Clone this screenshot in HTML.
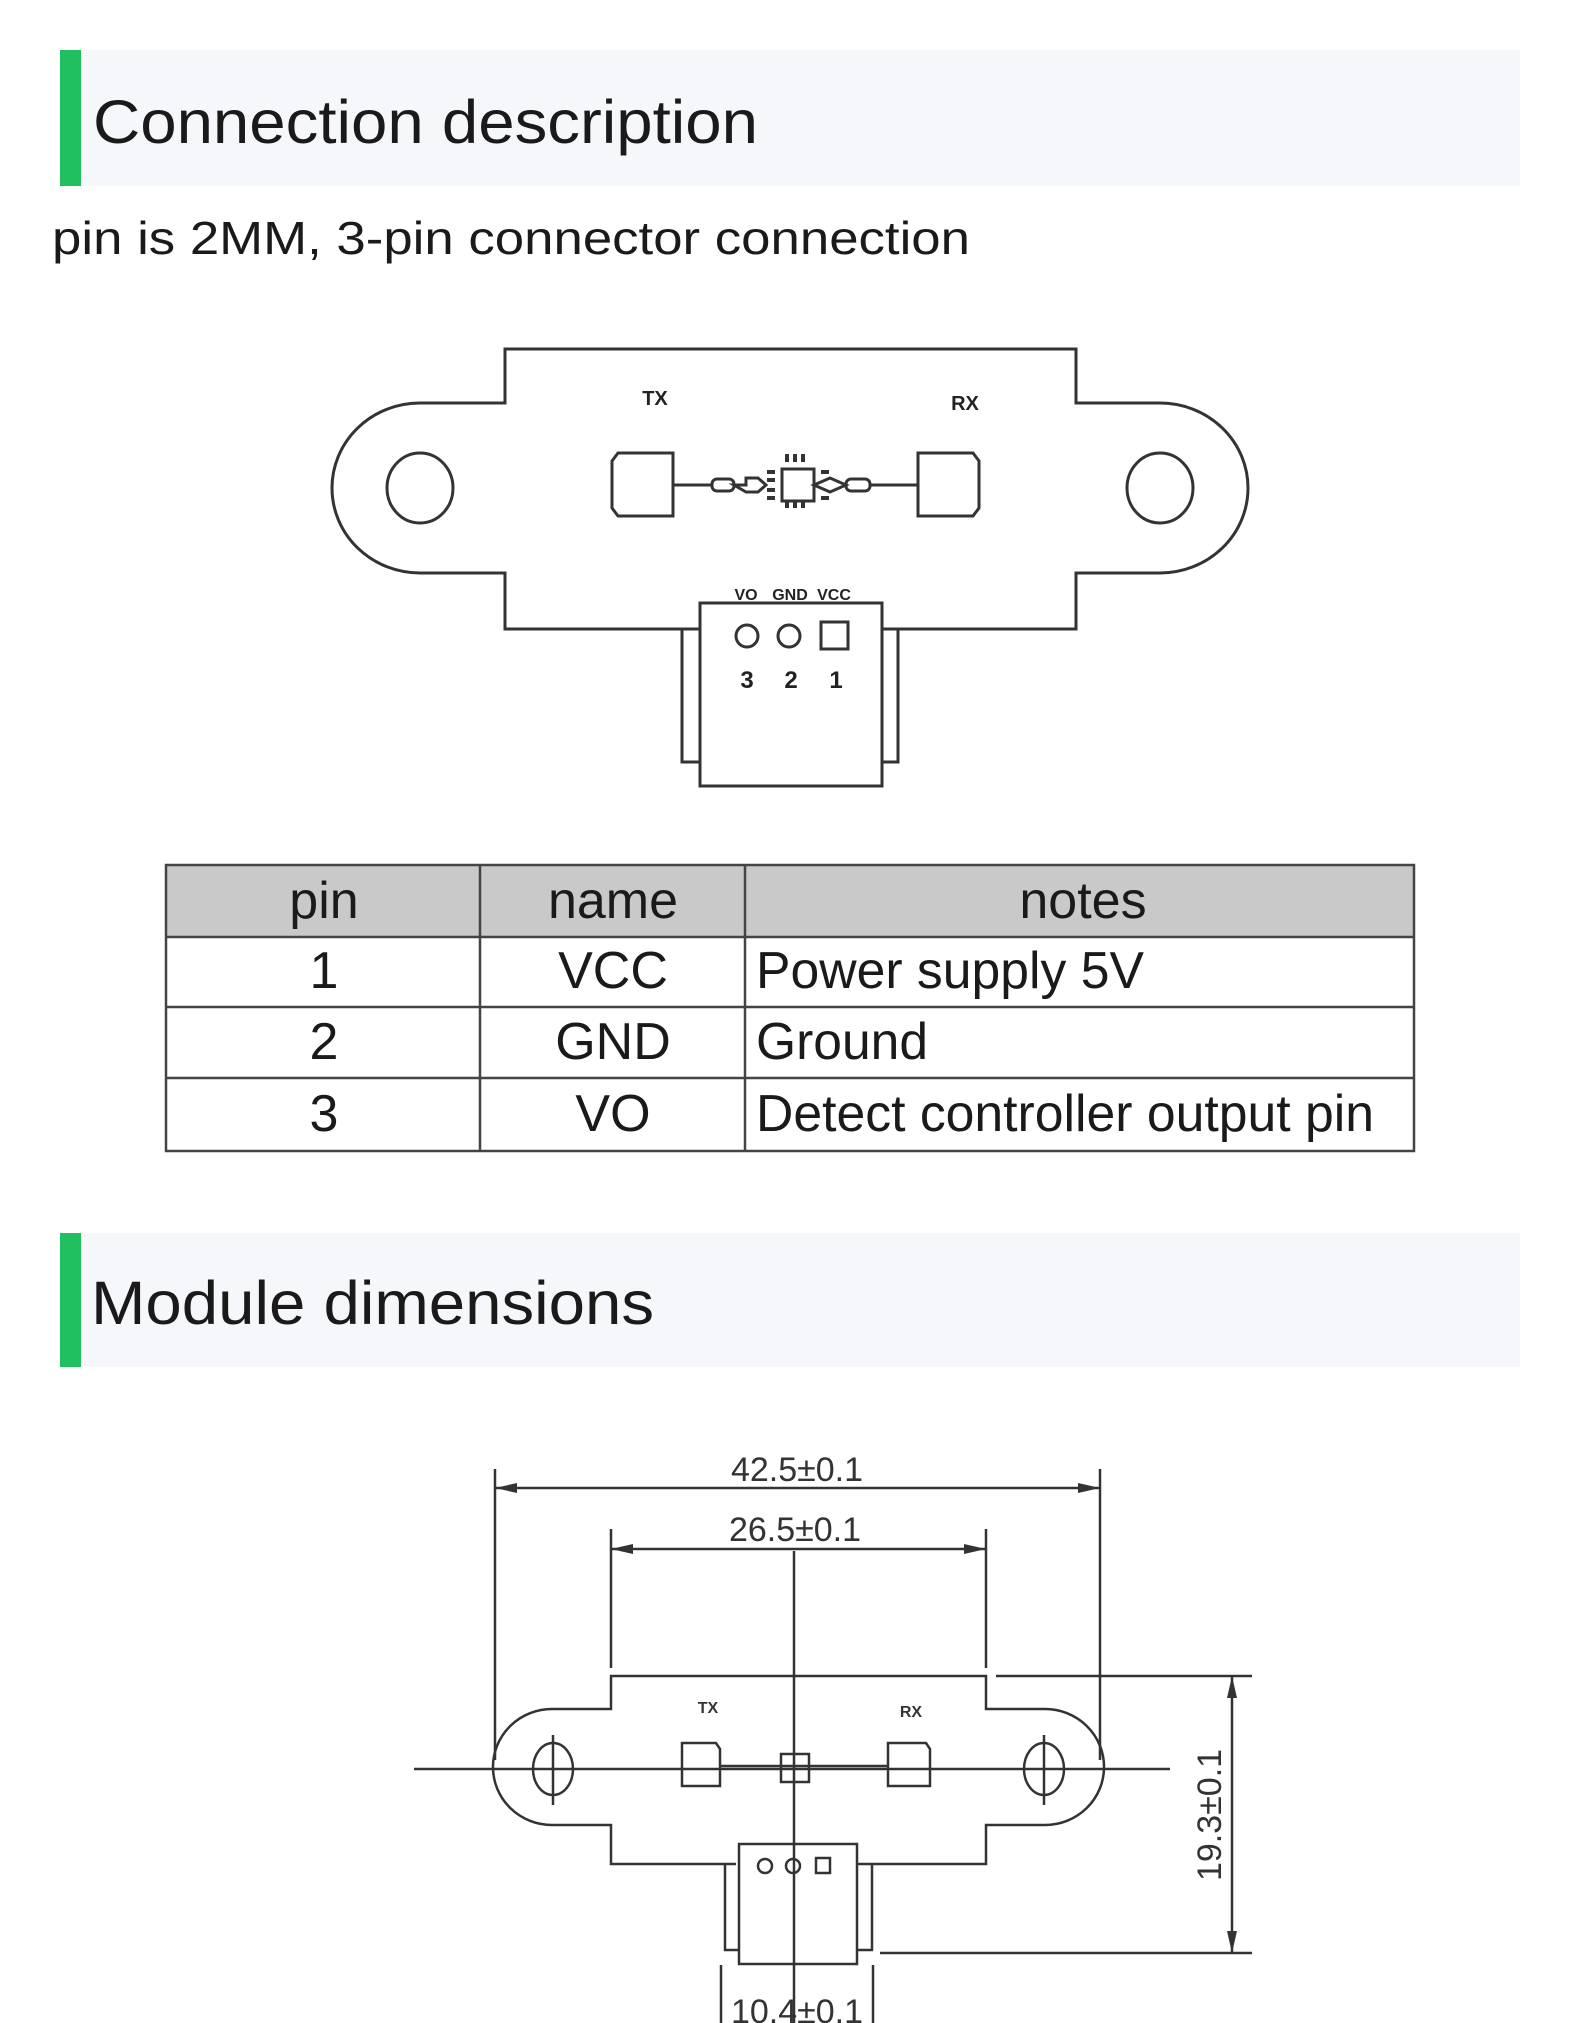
<!DOCTYPE html>
<html><head><meta charset="utf-8"><style>
html,body{margin:0;padding:0;background:#fff;}
body{width:1581px;height:2023px;overflow:hidden;position:relative;}
svg{position:absolute;left:0;top:0;}
</style></head><body>
<svg width="1581" height="2023" viewBox="0 0 1581 2023" xmlns="http://www.w3.org/2000/svg">
<!-- header 1 -->
<rect x="60" y="50" width="1460" height="136" fill="#f5f7fa"/>
<rect x="60" y="50" width="21" height="136" fill="#20c060"/>
<text x="93" y="143" font-family="Liberation Sans, sans-serif" font-size="61" fill="#1a1a1a" textLength="665" lengthAdjust="spacingAndGlyphs">Connection description</text>
<text x="52" y="254" font-family="Liberation Sans, sans-serif" font-size="46" fill="#1a1a1a" textLength="918" lengthAdjust="spacingAndGlyphs">pin is 2MM, 3-pin connector connection</text>

<!-- diagram 1 -->
<g fill="none" stroke="#333" stroke-width="3">
<path d="M700,629 L505,629 L505,573 L420,573 A88,85 0 0 1 420,403 L505,403 L505,349 L1076,349 L1076,403 L1160,403 A88,85 0 0 1 1160,573 L1076,573 L1076,629 L882,629"/>
<rect x="700" y="603" width="182" height="183"/>
<path d="M700,762 L682,762 L682,629 M882,762 L898,762 L898,629"/>
<ellipse cx="420" cy="488" rx="33" ry="35"/>
<ellipse cx="1160" cy="488" rx="33" ry="35"/>
<path d="M618,453 L673,453 L673,516 L618,516 L612,508 L612,461 Z"/>
<path d="M918,453 L973,453 L979,461 L979,508 L973,516 L918,516 Z"/>
<line x1="673" y1="485" x2="712" y2="485"/>
<rect x="712" y="479" width="22" height="12" rx="5"/>
<path d="M734,485 L746,485 L746,478 L758,478 L766,485 L758,492 L746,492 Z"/>
<rect x="782" y="469" width="32" height="32"/>
<path d="M814,485 L830,478 L846,485 L830,492 Z"/>
<rect x="846" y="479" width="24" height="12" rx="5"/>
<line x1="870" y1="485" x2="918" y2="485"/>
<circle cx="747" cy="636" r="11"/>
<circle cx="789" cy="636" r="11"/>
<rect x="821" y="622" width="27" height="27"/>
</g>
<g stroke="#333" stroke-width="4">
<path d="M787,462v-8 M795,462v-8 M803,462v-8 M787,508v-8 M795,508v-8 M803,508v-8 M767,472h8 M767,480h8 M767,490h8 M767,498h8 M821,472h8 M821,498h8"/>
</g>
<g font-family="Liberation Sans Narrow, Liberation Sans, sans-serif" font-weight="bold" fill="#222">
<text x="655" y="405" font-size="20" text-anchor="middle">TX</text>
<text x="965" y="410" font-size="20" text-anchor="middle">RX</text>
<text x="746" y="600" font-size="16" text-anchor="middle">VO</text>
<text x="790" y="600" font-size="16" text-anchor="middle">GND</text>
<text x="834" y="600" font-size="16" text-anchor="middle">VCC</text>
<text x="747" y="688" font-size="24" text-anchor="middle">3</text>
<text x="791" y="688" font-size="24" text-anchor="middle">2</text>
<text x="836" y="688" font-size="24" text-anchor="middle">1</text>
</g>

<!-- table -->
<rect x="166" y="865" width="1248" height="72" fill="#c9c9c9"/>
<g stroke="#444" stroke-width="2.5" fill="none">
<rect x="166" y="865" width="1248" height="286"/>
<line x1="166" y1="937" x2="1414" y2="937"/>
<line x1="166" y1="1007" x2="1414" y2="1007"/>
<line x1="166" y1="1078" x2="1414" y2="1078"/>
<line x1="480" y1="865" x2="480" y2="1151"/>
<line x1="745" y1="865" x2="745" y2="1151"/>
</g>
<g font-family="Liberation Sans Narrow, Liberation Sans, sans-serif" font-size="52" fill="#1a1a1a">
<text x="324" y="918" text-anchor="middle">pin</text>
<text x="613" y="918" text-anchor="middle">name</text>
<text x="1083" y="918" text-anchor="middle">notes</text>
<text x="324" y="988" text-anchor="middle">1</text>
<text x="613" y="988" text-anchor="middle">VCC</text>
<text x="756" y="988" textLength="388" lengthAdjust="spacingAndGlyphs">Power supply 5V</text>
<text x="324" y="1059" text-anchor="middle">2</text>
<text x="613" y="1059" text-anchor="middle">GND</text>
<text x="756" y="1059" textLength="172" lengthAdjust="spacingAndGlyphs">Ground</text>
<text x="324" y="1131" text-anchor="middle">3</text>
<text x="613" y="1131" text-anchor="middle">VO</text>
<text x="756" y="1131" textLength="618" lengthAdjust="spacingAndGlyphs">Detect controller output pin</text>
</g>

<!-- header 2 -->
<rect x="60" y="1233" width="1460" height="134" fill="#f5f7fa"/>
<rect x="60" y="1233" width="21" height="134" fill="#20c060"/>
<text x="91" y="1324" font-family="Liberation Sans, sans-serif" font-size="61" fill="#1a1a1a" textLength="563" lengthAdjust="spacingAndGlyphs">Module dimensions</text>

<!-- diagram 2 -->
<g fill="none" stroke="#333" stroke-width="2.5">
<line x1="495" y1="1469" x2="495" y2="1760"/>
<line x1="1100" y1="1469" x2="1100" y2="1760"/>
<line x1="495" y1="1488" x2="1100" y2="1488"/>
<line x1="611" y1="1529" x2="611" y2="1668"/>
<line x1="986" y1="1529" x2="986" y2="1668"/>
<line x1="611" y1="1549" x2="986" y2="1549"/>
<line x1="794" y1="1551" x2="794" y2="2023"/>
<line x1="414" y1="1769" x2="1170" y2="1769"/>
<path d="M736,1864 L611,1864 L611,1825 L552,1825 A57,56 0 0 1 552,1709 L611,1709 L611,1676 L986,1676 L986,1709 L1045,1709 A57,56 0 0 1 1045,1825 L986,1825 L986,1864 L858,1864"/>
<path d="M739,1844 L857,1844 L857,1964 L739,1964 Z"/>
<path d="M739,1950 L725,1950 L725,1864 M857,1950 L872,1950 L872,1864"/>
<ellipse cx="553" cy="1769" rx="20" ry="26"/>
<ellipse cx="1044" cy="1769" rx="20" ry="26"/>
<line x1="553" y1="1735" x2="553" y2="1805"/>
<line x1="1044" y1="1735" x2="1044" y2="1805"/>
<line x1="996" y1="1676" x2="1252" y2="1676"/>
<line x1="880" y1="1953" x2="1252" y2="1953"/>
<line x1="1232" y1="1676" x2="1232" y2="1953"/>
<line x1="721" y1="1965" x2="721" y2="2023"/>
<line x1="873" y1="1965" x2="873" y2="2023"/>
<path d="M682,1743 L716,1743 L720,1749 L720,1786 L682,1786 Z"/>
<path d="M888,1743 L926,1743 L930,1749 L930,1786 L888,1786 Z"/>
<line x1="720" y1="1766" x2="888" y2="1766"/>
<rect x="781" y="1754" width="28" height="28"/>
<circle cx="765" cy="1866" r="7"/>
<circle cx="793" cy="1866" r="7"/>
<rect x="816" y="1858" width="14" height="15"/>
</g>
<g fill="#333">
<path d="M495,1488 l22,-5 v10 z M1100,1488 l-22,-5 v10 z"/>
<path d="M611,1549 l22,-5 v10 z M986,1549 l-22,-5 v10 z"/>
<path d="M1232,1676 l-5,22 h10 z M1232,1953 l-5,-22 h10 z"/>
</g>
<g font-family="Liberation Sans Narrow, Liberation Sans, sans-serif" fill="#333">
<text x="797" y="1481" font-size="34" text-anchor="middle">42.5±0.1</text>
<text x="795" y="1541" font-size="34" text-anchor="middle">26.5±0.1</text>
<text x="708" y="1713" font-size="16" font-weight="bold" text-anchor="middle">TX</text>
<text x="911" y="1717" font-size="16" font-weight="bold" text-anchor="middle">RX</text>
<text transform="translate(1221,1815) rotate(-90)" font-size="34" text-anchor="middle">19.3±0.1</text>
<text x="797" y="2023" font-size="34" text-anchor="middle">10.4±0.1</text>
</g>
</svg>
</body></html>
